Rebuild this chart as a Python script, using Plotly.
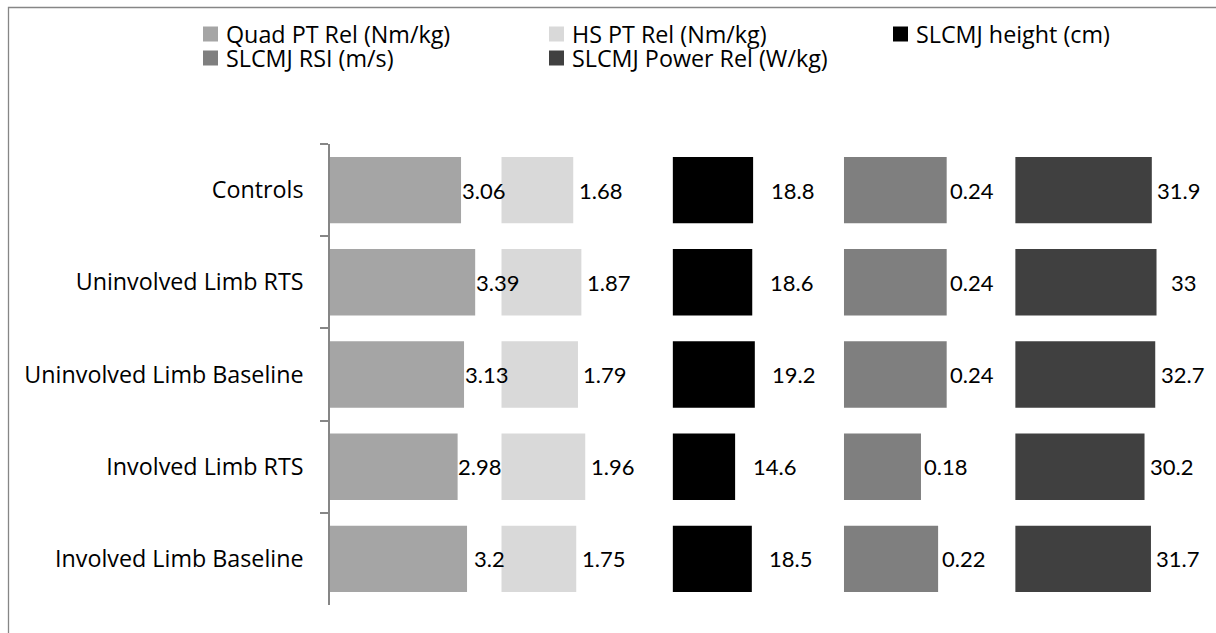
import plotly.graph_objects as go

# Groups, top to bottom
categories = [
    "Controls",
    "Uninvolved Limb RTS",
    "Uninvolved Limb Baseline",
    "Involved Limb RTS",
    "Involved Limb Baseline",
]

# Measures per group
quad_pt_rel = [3.06, 3.39, 3.13, 2.98, 3.2]
hs_pt_rel = [1.68, 1.87, 1.79, 1.96, 1.75]
slcmj_height = [18.8, 18.6, 19.2, 14.6, 18.5]
slcmj_rsi = [0.24, 0.24, 0.24, 0.18, 0.22]
slcmj_power_rel = [31.9, 33, 32.7, 30.2, 31.7]

series_names = [
    "Quad PT Rel (Nm/kg)",
    "HS PT Rel (Nm/kg)",
    "SLCMJ height (cm)",
    "SLCMJ RSI (m/s)",
    "SLCMJ Power Rel (W/kg)",
]

W, H = 1216, 633
FONT = "Open Sans"
FS = 23.3
VALUE_FONT = "Lato"
VALUE_FS = 22


def px_x(p):
    return p / W


def px_y(p):
    return 1 - p / H


series = [
    dict(name=series_names[0], values=quad_pt_rel, color="#A5A5A5", span=4.0, shift=22),
    dict(name=series_names[1], values=hs_pt_rel, color="#D9D9D9", span=4.0, shift=27),
    dict(name=series_names[2], values=slcmj_height, color="#000000", span=40.0, shift=39),
    dict(name=series_names[3], values=slcmj_rsi, color="#7F7F7F", span=0.4, shift=25),
    dict(name=series_names[4], values=slcmj_power_rel, color="#404040", span=40.0, shift=27),
]

panel_left = 330.0
panel_w = 171.3
plot_top, plot_bottom = 144, 605
ydom = [px_y(plot_bottom), px_y(plot_top)]

fig = go.Figure()
annotations = []
layout_axes = {}

for i, s in enumerate(series):
    k = i + 1
    xa = "x" if k == 1 else f"x{k}"
    x0 = panel_left + i * panel_w
    fig.add_trace(
        go.Bar(
            y=categories,
            x=s["values"],
            orientation="h",
            marker=dict(color=s["color"], line=dict(width=0)),
            name=s["name"],
            xaxis=xa,
            yaxis="y",
            showlegend=False,
            hoverinfo="x+y",
        )
    )
    key = "xaxis" if k == 1 else f"xaxis{k}"
    layout_axes[key] = dict(
        domain=[px_x(x0), px_x(x0 + panel_w)],
        range=[0, s["span"]],
        visible=False,
        anchor="y",
        fixedrange=True,
    )
    for cat, v in zip(categories, s["values"]):
        annotations.append(
            dict(
                x=v, y=cat, xref=xa, yref="y",
                text=f"{v:g}", showarrow=False,
                xanchor="center", yanchor="middle",
                xshift=s["shift"],
                font=dict(family=VALUE_FONT, size=VALUE_FS, color="#000000"),
            )
        )

# Legend drawn as swatches and labels in two rows of three columns
legend_cols = [203, 549, 893]
legend_rows = [34, 58]
shapes = []
for i, s in enumerate(series):
    cx = legend_cols[i % 3]
    cy = legend_rows[i // 3]
    shapes.append(
        dict(
            type="rect", xref="paper", yref="paper",
            x0=px_x(cx), x1=px_x(cx + 15),
            y0=px_y(cy + 7.5), y1=px_y(cy - 7.5),
            fillcolor=s["color"], line=dict(width=0),
        )
    )
    annotations.append(
        dict(
            x=px_x(cx + 21), y=px_y(cy), xref="paper", yref="paper",
            text=s["name"], showarrow=False,
            xanchor="left", yanchor="middle",
            font=dict(family=FONT, size=FS, color="#000000"),
        )
    )

# Chart frame
shapes.append(
    dict(
        type="rect", xref="paper", yref="paper",
        x0=px_x(8.5), x1=px_x(1230), y0=px_y(650), y1=px_y(7.5),
        line=dict(color="#868686", width=1.3), fillcolor="rgba(0,0,0,0)",
        layer="below",
    )
)

fig.update_layout(
    width=W,
    height=H,
    margin=dict(l=0, r=0, t=0, b=0),
    paper_bgcolor="white",
    plot_bgcolor="white",
    barmode="group",
    bargap=0.28,
    showlegend=False,
    annotations=annotations,
    shapes=shapes,
    font=dict(family=FONT, size=FS, color="#000000"),
    yaxis=dict(
        domain=ydom,
        type="category",
        autorange="reversed",
        anchor="x",
        showline=True,
        linecolor="#868686",
        linewidth=1.5,
        ticks="outside",
        tickson="boundaries",
        ticklen=8,
        tickwidth=1.5,
        tickcolor="#868686",
        ticklabelstandoff=20,
        showgrid=False,
        zeroline=False,
        tickfont=dict(family=FONT, size=FS, color="#000000"),
        fixedrange=True,
    ),
    **layout_axes,
)

fig.write_html("out.html")
